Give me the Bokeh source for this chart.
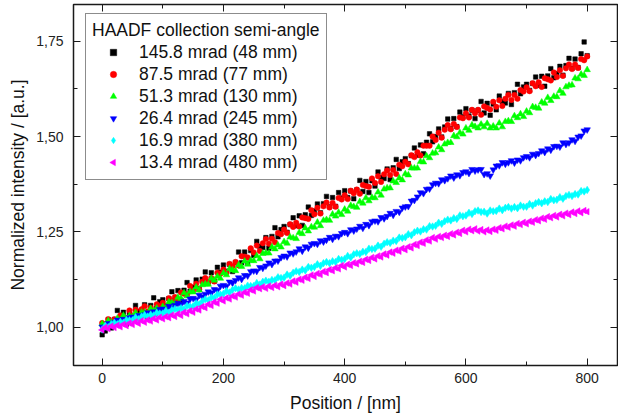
import math
from bokeh.plotting import figure
from bokeh.models import (LinearAxis, FixedTicker, CustomJSTickFormatter, Range1d,
                          Legend, LegendItem, CustomJS)
from bokeh.embed import file_html
from bokeh.resources import INLINE

# ---------------- data ----------------
position_nm = list(range(0, 801, 5))

series_labels = ["145.8 mrad (48 mm)", "87.5 mrad (77 mm)", "51.3 mrad (130 mm)",
                 "26.4 mrad (245 mm)", "16.9 mrad (380 mm)", "13.4 mrad (480 mm)"]

mrad_145_8 = [
    0.980, 0.990, 1.020, 0.998, 1.020, 1.044, 1.014, 1.039, 1.008, 1.038,
    1.023, 1.057, 1.042, 1.036, 1.059, 1.029, 1.057, 1.077, 1.050, 1.067,
    1.072, 1.056, 1.075, 1.093, 1.071, 1.096, 1.070, 1.097, 1.117, 1.094,
    1.105, 1.124, 1.101, 1.126, 1.145, 1.119, 1.143, 1.121, 1.157, 1.144,
    1.163, 1.147, 1.165, 1.146, 1.170, 1.197, 1.169, 1.197, 1.168, 1.201,
    1.188, 1.225, 1.212, 1.209, 1.235, 1.207, 1.238, 1.261, 1.237, 1.256,
    1.264, 1.249, 1.269, 1.287, 1.266, 1.292, 1.267, 1.295, 1.315, 1.293,
    1.305, 1.323, 1.300, 1.324, 1.343, 1.316, 1.340, 1.317, 1.353, 1.339,
    1.358, 1.340, 1.357, 1.337, 1.360, 1.385, 1.356, 1.382, 1.353, 1.384,
    1.370, 1.407, 1.393, 1.390, 1.415, 1.387, 1.418, 1.440, 1.416, 1.434,
    1.442, 1.429, 1.450, 1.470, 1.451, 1.478, 1.455, 1.485, 1.507, 1.486,
    1.500, 1.520, 1.499, 1.525, 1.546, 1.521, 1.547, 1.526, 1.564, 1.552,
    1.573, 1.554, 1.569, 1.547, 1.569, 1.592, 1.562, 1.587, 1.556, 1.585,
    1.570, 1.606, 1.592, 1.588, 1.613, 1.584, 1.615, 1.637, 1.612, 1.630,
    1.637, 1.621, 1.639, 1.656, 1.634, 1.658, 1.632, 1.659, 1.678, 1.654,
    1.665, 1.684, 1.661, 1.686, 1.705, 1.679, 1.703, 1.681, 1.717, 1.748,
    1.712]

mrad_87_5 = [
    1.011, 1.000, 1.021, 1.012, 1.021, 1.009, 1.031, 1.027, 1.023, 1.044,
    1.031, 1.046, 1.030, 1.047, 1.055, 1.041, 1.051, 1.039, 1.060, 1.055,
    1.064, 1.054, 1.076, 1.069, 1.079, 1.068, 1.091, 1.088, 1.086, 1.108,
    1.096, 1.114, 1.099, 1.119, 1.129, 1.117, 1.129, 1.120, 1.143, 1.140,
    1.151, 1.143, 1.166, 1.160, 1.171, 1.162, 1.186, 1.185, 1.183, 1.207,
    1.196, 1.214, 1.200, 1.220, 1.231, 1.219, 1.232, 1.223, 1.247, 1.244,
    1.256, 1.247, 1.270, 1.263, 1.274, 1.264, 1.288, 1.286, 1.284, 1.307,
    1.296, 1.313, 1.298, 1.317, 1.327, 1.314, 1.326, 1.316, 1.339, 1.335,
    1.346, 1.336, 1.358, 1.351, 1.361, 1.350, 1.373, 1.370, 1.368, 1.390,
    1.378, 1.396, 1.381, 1.401, 1.411, 1.399, 1.412, 1.402, 1.426, 1.422,
    1.434, 1.427, 1.451, 1.446, 1.459, 1.450, 1.476, 1.476, 1.476, 1.500,
    1.491, 1.510, 1.497, 1.518, 1.530, 1.519, 1.533, 1.525, 1.550, 1.548,
    1.561, 1.550, 1.570, 1.561, 1.570, 1.557, 1.579, 1.575, 1.571, 1.591,
    1.578, 1.595, 1.580, 1.599, 1.609, 1.596, 1.609, 1.599, 1.622, 1.618,
    1.629, 1.619, 1.640, 1.632, 1.642, 1.630, 1.653, 1.650, 1.647, 1.668,
    1.656, 1.674, 1.659, 1.679, 1.689, 1.677, 1.689, 1.680, 1.703, 1.700,
    1.710]

mrad_51_3 = [
    1.009, 1.003, 1.017, 1.013, 1.009, 1.023, 1.018, 1.031, 1.021, 1.030,
    1.027, 1.038, 1.027, 1.039, 1.039, 1.035, 1.049, 1.042, 1.050, 1.042,
    1.054, 1.050, 1.066, 1.064, 1.062, 1.078, 1.075, 1.090, 1.082, 1.093,
    1.092, 1.105, 1.097, 1.111, 1.113, 1.112, 1.128, 1.123, 1.133, 1.128,
    1.142, 1.137, 1.153, 1.150, 1.148, 1.163, 1.159, 1.173, 1.165, 1.175,
    1.174, 1.187, 1.179, 1.193, 1.195, 1.194, 1.210, 1.205, 1.215, 1.210,
    1.224, 1.220, 1.236, 1.234, 1.232, 1.248, 1.245, 1.260, 1.252, 1.263,
    1.262, 1.275, 1.266, 1.280, 1.282, 1.280, 1.296, 1.291, 1.301, 1.295,
    1.309, 1.304, 1.319, 1.316, 1.314, 1.329, 1.325, 1.339, 1.331, 1.340,
    1.339, 1.354, 1.346, 1.362, 1.365, 1.365, 1.383, 1.379, 1.391, 1.386,
    1.402, 1.399, 1.417, 1.417, 1.417, 1.434, 1.433, 1.449, 1.444, 1.456,
    1.457, 1.472, 1.465, 1.480, 1.484, 1.484, 1.502, 1.499, 1.510, 1.506,
    1.522, 1.516, 1.530, 1.526, 1.522, 1.532, 1.525, 1.534, 1.522, 1.527,
    1.522, 1.535, 1.525, 1.539, 1.541, 1.539, 1.554, 1.549, 1.559, 1.552,
    1.566, 1.562, 1.578, 1.576, 1.574, 1.590, 1.587, 1.602, 1.594, 1.605,
    1.604, 1.620, 1.613, 1.630, 1.634, 1.635, 1.653, 1.651, 1.663, 1.660,
    1.675]

mrad_26_4 = [
    1.001, 1.001, 1.010, 1.009, 1.013, 1.019, 1.012, 1.021, 1.018, 1.025,
    1.027, 1.024, 1.031, 1.029, 1.033, 1.038, 1.033, 1.041, 1.037, 1.047,
    1.048, 1.044, 1.055, 1.051, 1.058, 1.063, 1.060, 1.068, 1.064, 1.074,
    1.076, 1.073, 1.084, 1.080, 1.087, 1.093, 1.090, 1.099, 1.097, 1.108,
    1.110, 1.108, 1.119, 1.116, 1.123, 1.130, 1.126, 1.136, 1.135, 1.146,
    1.148, 1.147, 1.157, 1.155, 1.161, 1.169, 1.165, 1.174, 1.174, 1.183,
    1.187, 1.185, 1.195, 1.193, 1.198, 1.206, 1.200, 1.211, 1.208, 1.218,
    1.220, 1.218, 1.227, 1.224, 1.229, 1.236, 1.231, 1.239, 1.238, 1.246,
    1.249, 1.246, 1.256, 1.253, 1.258, 1.265, 1.260, 1.270, 1.267, 1.277,
    1.279, 1.277, 1.288, 1.285, 1.291, 1.299, 1.294, 1.304, 1.302, 1.313,
    1.316, 1.317, 1.331, 1.333, 1.342, 1.353, 1.351, 1.362, 1.363, 1.374,
    1.378, 1.377, 1.387, 1.385, 1.390, 1.397, 1.392, 1.400, 1.398, 1.406,
    1.408, 1.404, 1.414, 1.410, 1.413, 1.414, 1.401, 1.403, 1.397, 1.413,
    1.423, 1.424, 1.432, 1.428, 1.432, 1.437, 1.431, 1.439, 1.437, 1.445,
    1.448, 1.445, 1.454, 1.451, 1.456, 1.463, 1.459, 1.468, 1.465, 1.474,
    1.475, 1.473, 1.484, 1.480, 1.484, 1.492, 1.488, 1.499, 1.502, 1.515,
    1.518]

mrad_16_9 = [
    0.994, 1.004, 1.000, 1.008, 1.012, 1.008, 1.014, 1.012, 1.019, 1.018,
    1.018, 1.026, 1.021, 1.028, 1.032, 1.028, 1.033, 1.031, 1.038, 1.036,
    1.036, 1.043, 1.038, 1.045, 1.048, 1.045, 1.050, 1.048, 1.056, 1.054,
    1.055, 1.063, 1.060, 1.068, 1.073, 1.071, 1.078, 1.077, 1.086, 1.086,
    1.088, 1.095, 1.091, 1.098, 1.102, 1.099, 1.103, 1.102, 1.109, 1.108,
    1.108, 1.116, 1.112, 1.119, 1.122, 1.119, 1.124, 1.123, 1.131, 1.129,
    1.130, 1.138, 1.135, 1.143, 1.147, 1.145, 1.151, 1.149, 1.158, 1.156,
    1.158, 1.165, 1.161, 1.168, 1.171, 1.168, 1.173, 1.171, 1.179, 1.177,
    1.179, 1.187, 1.183, 1.191, 1.194, 1.192, 1.198, 1.197, 1.206, 1.205,
    1.206, 1.214, 1.211, 1.219, 1.223, 1.221, 1.227, 1.226, 1.235, 1.234,
    1.236, 1.244, 1.241, 1.249, 1.253, 1.251, 1.257, 1.256, 1.265, 1.264,
    1.266, 1.274, 1.271, 1.278, 1.282, 1.280, 1.286, 1.284, 1.293, 1.291,
    1.293, 1.300, 1.297, 1.304, 1.306, 1.302, 1.303, 1.298, 1.306, 1.304,
    1.305, 1.311, 1.307, 1.313, 1.315, 1.311, 1.315, 1.312, 1.319, 1.316,
    1.316, 1.323, 1.319, 1.325, 1.328, 1.325, 1.330, 1.328, 1.336, 1.333,
    1.334, 1.341, 1.337, 1.344, 1.347, 1.344, 1.349, 1.348, 1.357, 1.356,
    1.360]

mrad_13_4 = [
    0.993, 1.000, 0.996, 1.003, 0.999, 1.005, 1.001, 1.008, 1.004, 1.011,
    1.007, 1.014, 1.010, 1.017, 1.013, 1.019, 1.016, 1.023, 1.019, 1.026,
    1.022, 1.028, 1.025, 1.032, 1.028, 1.035, 1.031, 1.039, 1.035, 1.043,
    1.039, 1.048, 1.045, 1.054, 1.051, 1.060, 1.057, 1.066, 1.063, 1.073,
    1.069, 1.077, 1.074, 1.082, 1.079, 1.087, 1.084, 1.092, 1.089, 1.098,
    1.095, 1.104, 1.101, 1.106, 1.102, 1.108, 1.104, 1.110, 1.106, 1.113,
    1.109, 1.116, 1.113, 1.121, 1.118, 1.126, 1.123, 1.131, 1.128, 1.137,
    1.133, 1.141, 1.138, 1.146, 1.143, 1.151, 1.148, 1.156, 1.153, 1.162,
    1.158, 1.165, 1.162, 1.169, 1.166, 1.173, 1.170, 1.178, 1.175, 1.183,
    1.179, 1.187, 1.184, 1.192, 1.189, 1.197, 1.194, 1.202, 1.199, 1.207,
    1.203, 1.211, 1.208, 1.217, 1.214, 1.223, 1.220, 1.229, 1.226, 1.235,
    1.231, 1.238, 1.235, 1.241, 1.238, 1.245, 1.242, 1.249, 1.246, 1.254,
    1.250, 1.257, 1.253, 1.258, 1.252, 1.256, 1.250, 1.255, 1.251, 1.257,
    1.254, 1.261, 1.258, 1.265, 1.262, 1.268, 1.265, 1.272, 1.269, 1.275,
    1.271, 1.278, 1.275, 1.282, 1.279, 1.286, 1.283, 1.290, 1.287, 1.293,
    1.289, 1.296, 1.292, 1.299, 1.295, 1.302, 1.298, 1.305, 1.300, 1.306,
    1.303]

x_major_ticks = [0, 200, 400, 600, 800]
x_minor_ticks = [100, 300, 500, 700]
y_major_ticks = [1.00, 1.25, 1.50, 1.75]
y_minor_ticks = [0.875, 1.125, 1.375, 1.625]

x_title = "Position / [nm]"
y_title = "Normalized intensity / [a.u.]"
legend_title = "HAADF collection semi-angle"

# ---------------- figure ----------------
FONT = "Liberation Sans"
INK = "#1a1a1a"

p = figure(width=618, height=418, output_backend="svg", toolbar_location=None,
           x_range=Range1d(-47.3, 850.0), y_range=Range1d(0.8996, 1.8462),
           min_border_left=73, min_border_right=1, min_border_top=4,
           min_border_bottom=53)
p.grid.visible = False
p.outline_line_color = INK
p.outline_line_width = 1.5
p.background_fill_color = "white"
p.border_fill_color = "white"

# custom left-pointing triangle marker (drawn the same in the plot and legend)
left_triangle = CustomJS(code="""
export default (args, obj, {ctx, i, r, visuals}) => {
  const h = r*Math.sqrt(3)
  const a = h/3
  ctx.moveTo(a, -r)
  ctx.lineTo(a, r)
  ctx.lineTo(a - h, 0)
  ctx.closePath()
  visuals.fill.apply(ctx, i)
  visuals.hatch.apply(ctx, i)
  visuals.line.apply(ctx, i)
}
""")

styles = [
    dict(marker="square", color="#000000", size=4.5),
    dict(marker="circle", color="#ff0000", size=5.5),
    dict(marker="triangle", color="#00ff00", size=6.5),
    dict(marker="inverted_triangle", color="#0000ff", size=6.5),
    dict(marker="diamond", color="#00ffff", size=7.5),
    dict(marker="@left_triangle", color="#ff00ff", size=6.5),
]
all_series = [mrad_145_8, mrad_87_5, mrad_51_3, mrad_26_4, mrad_16_9, mrad_13_4]

renderers = []
for ys, st in zip(all_series, styles):
    kw = {}
    if st["marker"].startswith("@"):
        kw["defs"] = {"@left_triangle": left_triangle}
    r = p.scatter(position_nm, ys, marker=st["marker"], size=st["size"],
                  fill_color=st["color"], line_color=st["color"], line_width=0.5,
                  **kw)
    renderers.append(r)


def style_axis(ax, show_labels):
    ax.axis_line_color = None
    ax.major_tick_in = 7
    ax.major_tick_out = 0
    ax.minor_tick_in = 4
    ax.minor_tick_out = 0
    ax.major_tick_line_color = INK
    ax.minor_tick_line_color = INK
    ax.major_tick_line_width = 1
    ax.minor_tick_line_width = 1
    if show_labels:
        ax.major_label_text_font = FONT
        ax.major_label_text_font_size = "14px"
        ax.major_label_text_color = "#222222"
        ax.axis_label_text_font = FONT
        ax.axis_label_text_font_size = "17.5px"
        ax.axis_label_text_font_style = "normal"
        ax.axis_label_text_color = "#111111"
    else:
        ax.major_label_text_font_size = "0px"
        ax.major_label_text_color = None
        ax.major_label_standoff = 0
        ax.axis_label = None


xt = FixedTicker(ticks=x_major_ticks, minor_ticks=x_minor_ticks)
yt = FixedTicker(ticks=y_major_ticks, minor_ticks=y_minor_ticks)
yfmt = CustomJSTickFormatter(code="return tick.toFixed(2).replace('.', ',');")

p.xaxis.ticker = xt
p.yaxis.ticker = yt
p.yaxis.formatter = yfmt
p.xaxis.axis_label = x_title
p.yaxis.axis_label = y_title
style_axis(p.xaxis[0], True)
style_axis(p.yaxis[0], True)
p.xaxis.major_label_standoff = 7
p.xaxis.axis_label_standoff = 7
p.yaxis.major_label_standoff = 10
p.yaxis.axis_label_standoff = 5

top_ax = LinearAxis(ticker=xt)
right_ax = LinearAxis(ticker=yt)
style_axis(top_ax, False)
style_axis(right_ax, False)
p.add_layout(top_ax, "above")
p.add_layout(right_ax, "right")

legend = Legend(items=[LegendItem(label=lab, renderers=[r])
                       for lab, r in zip(series_labels, renderers)],
                location=(12, 185), title=legend_title)
legend.margin = 0
legend.padding = 6
legend.spacing = 0
legend.glyph_width = 42
legend.glyph_height = 16
legend.label_height = 22
legend.label_standoff = 5
legend.label_text_font = FONT
legend.label_text_font_size = "17.5px"
legend.label_text_color = "#111111"
legend.title_text_font = FONT
legend.title_text_font_size = "17.5px"
legend.title_text_font_style = "normal"
legend.title_text_color = "#111111"
legend.title_standoff = -4
legend.border_line_color = INK
legend.border_line_width = 1
legend.background_fill_alpha = 1.0
p.add_layout(legend)

open("out.html", "w").write(file_html(p, INLINE))
